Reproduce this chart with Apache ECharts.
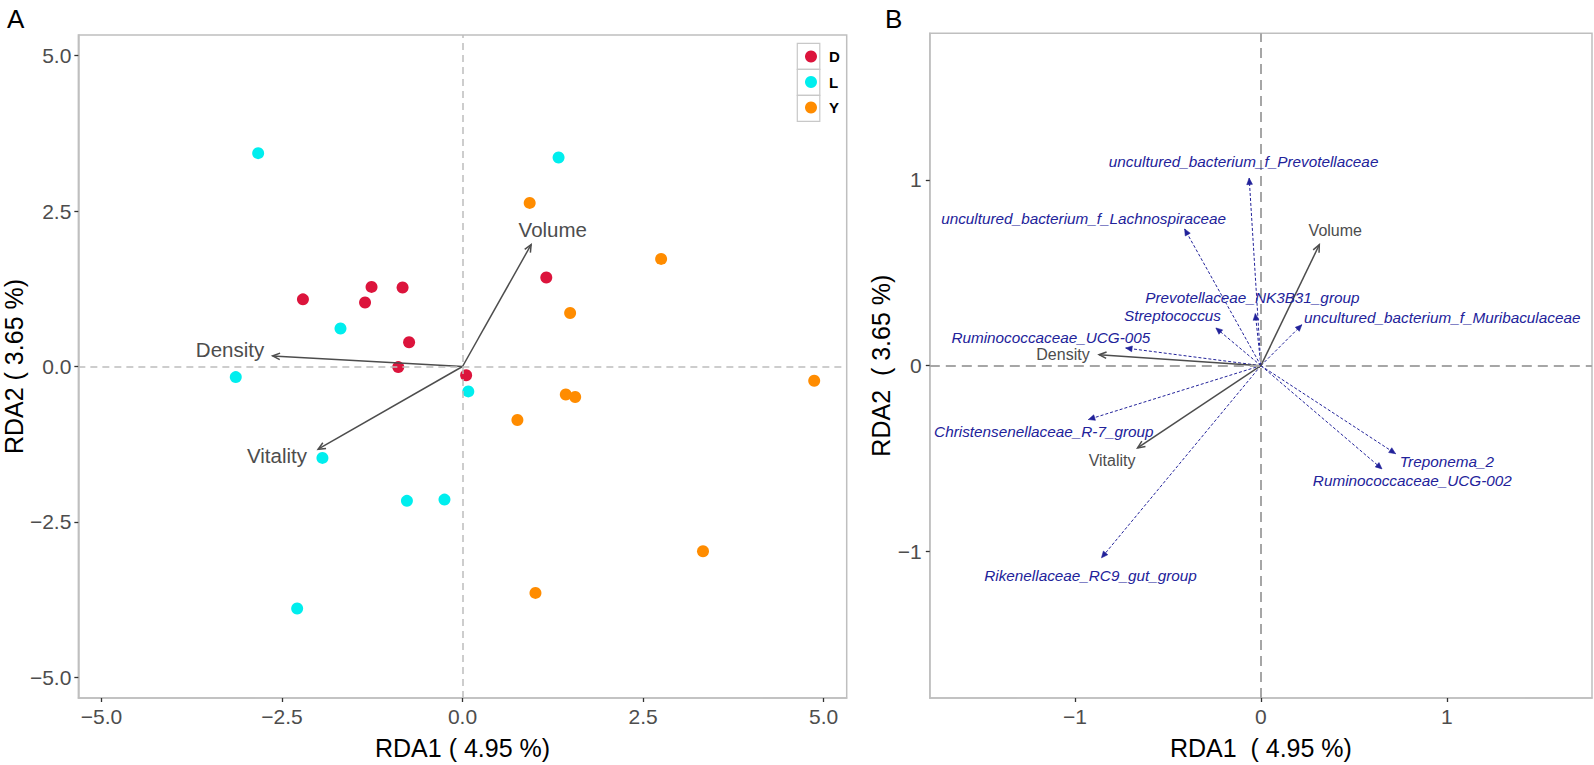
<!DOCTYPE html>
<html><head><meta charset="utf-8">
<script src="https://cdn.jsdelivr.net/npm/echarts@6/dist/echarts.min.js"></script>
<style>html,body{margin:0;padding:0;background:#fff}#c{width:1594px;height:765px}</style>
</head><body><div id="c"></div>
<script>
// ---------- data ----------
const groupNames = ['D', 'L', 'Y'];
const groupColors = ['#dc143c', '#00eeee', '#ff8c00'];
const pointsD = [[-2.21,1.08],[-1.26,1.28],[-0.83,1.27],[-1.35,1.03],[-0.74,0.39],[-0.89,-0.01],[0.05,-0.14],[1.16,1.43]];
const pointsL = [[-2.83,3.43],[1.33,3.36],[-1.69,0.61],[-3.14,-0.17],[0.08,-0.40],[-1.94,-1.47],[-0.77,-2.16],[-0.25,-2.14],[-2.29,-3.89]];
const pointsY = [[0.93,2.63],[2.75,1.73],[1.49,0.86],[4.87,-0.23],[1.43,-0.45],[1.56,-0.49],[0.76,-0.86],[3.33,-2.97],[1.01,-3.64]];

const envNames = ['Volume', 'Density', 'Vitality'];
const envArrowsA = [[0.95,1.96],[-2.63,0.17],[-2.0,-1.33]];
const envLabelsA = [[1.25,2.2],[-3.22,0.28],[-2.57,-1.43]];
const envArrowsB = [[0.314,0.651],[-0.87,0.059],[-0.663,-0.443]];
const envLabelsB = [[0.40,0.727],[-1.064,0.06],[-0.80,-0.51]];

const speciesNames = [
  'uncultured_bacterium_f_Prevotellaceae',
  'uncultured_bacterium_f_Lachnospiraceae',
  'Prevotellaceae_NK3B31_group',
  'Streptococcus',
  'uncultured_bacterium_f_Muribaculaceae',
  'Ruminococcaceae_UCG-005',
  'Christensenellaceae_R-7_group',
  'Rikenellaceae_RC9_gut_group',
  'Treponema_2',
  'Ruminococcaceae_UCG-002'
];
const speciesArrows = [[-0.063,1.01],[-0.41,0.736],[-0.03,0.28],[-0.242,0.203],[0.22,0.22],[-0.727,0.095],[-0.927,-0.29],[-0.857,-1.035],[0.724,-0.474],[0.651,-0.556]];
const speciesLabels = [[-0.093,1.10],[-0.953,0.79],[-0.046,0.368],[-0.475,0.27],[0.975,0.257],[-1.129,0.149],[-1.167,-0.354],[-0.916,-1.13],[1.0,-0.515],[0.814,-0.619]];

const ticksA = [-5, -2.5, 0, 2.5, 5];
const ticksB = [-1, 0, 1];
const xTitleA = 'RDA1 ( 4.95 %)';
const yTitleA = 'RDA2 ( 3.65 %)';
const xTitleB = 'RDA1\u00a0 ( 4.95 %)';
const yTitleB = 'RDA2\u00a0 ( 3.65 %)';

// ---------- helpers ----------
const FONT = 'Liberation Sans, Arial, Helvetica, sans-serif';
const fmtA = v => (v < 0 ? '\u2212' : '') + Math.abs(v).toFixed(1);
const fmtB = v => (v < 0 ? '\u2212' : '') + Math.abs(v);

function arrowSeries(gi, tips, color, dashed, filled, headLen, width) {
  return {
    type: 'custom', xAxisIndex: gi, yAxisIndex: gi, silent: true, z: 4,
    data: tips,
    renderItem: function (params, api) {
      const o = api.coord([0, 0]);
      const t = api.coord([api.value(0), api.value(1)]);
      const dx = t[0] - o[0], dy = t[1] - o[1];
      const len = Math.sqrt(dx * dx + dy * dy) || 1;
      const bx = -dx / len, by = -dy / len;
      const a = Math.PI / 7.5;
      const c = Math.cos(a), s = Math.sin(a);
      const p1 = [t[0] + headLen * (bx * c - by * s), t[1] + headLen * (bx * s + by * c)];
      const p2 = [t[0] + headLen * (bx * c + by * s), t[1] + headLen * (-bx * s + by * c)];
      const children = [{
        type: 'line',
        shape: { x1: o[0], y1: o[1], x2: t[0], y2: t[1] },
        style: { stroke: color, lineWidth: width, lineDash: dashed ? [3, 2] : null }
      }];
      if (filled) {
        children.push({ type: 'polygon', shape: { points: [t, p1, p2] }, style: { fill: color, stroke: color, lineWidth: 0.6 } });
      } else {
        children.push({ type: 'polyline', shape: { points: [p1, t, p2] }, style: { stroke: color, fill: null, lineWidth: width } });
      }
      return { type: 'group', children: children };
    }
  };
}

function labelSeries(gi, pos, names, color, size, italic) {
  return {
    type: 'custom', xAxisIndex: gi, yAxisIndex: gi, silent: true, z: 5,
    data: pos,
    renderItem: function (params, api) {
      const p = api.coord([api.value(0), api.value(1)]);
      return {
        type: 'text', x: p[0], y: p[1],
        style: {
          text: names[params.dataIndex], align: 'center', verticalAlign: 'middle',
          fill: color, fontSize: size, fontFamily: FONT, fontStyle: italic ? 'italic' : 'normal'
        }
      };
    }
  };
}

function zeroLines(gi, color, width, dash) {
  return {
    type: 'line', xAxisIndex: gi, yAxisIndex: gi, data: [], silent: true, z: 1,
    markLine: {
      silent: true, symbol: ['none', 'none'], animation: false,
      label: { show: false },
      lineStyle: { color: color, width: width, type: dash },
      data: [{ xAxis: 0 }, { yAxis: 0 }]
    }
  };
}

function axisCommon(extra) {
  return Object.assign({
    type: 'value',
    splitLine: { show: false },
    axisLine: { show: true, onZero: false, lineStyle: { color: '#bfbfbf', width: 1.5 } },
    nameLocation: 'middle',
    nameTextStyle: { fontSize: 25, color: '#000', fontFamily: FONT }
  }, extra);
}

const chart = echarts.init(document.getElementById('c'), null, { renderer: 'svg' });

const option = {
  backgroundColor: '#fff',
  animation: false,
  title: [
    { text: 'A', left: 2, top: 1, textStyle: { fontSize: 26, fontWeight: 'normal', color: '#000', fontFamily: FONT } },
    { text: 'B', left: 880, top: 1, textStyle: { fontSize: 26, fontWeight: 'normal', color: '#000', fontFamily: FONT } }
  ],
  grid: [
    { left: 77.3, top: 35, width: 769.4, height: 666, show: true, borderColor: '#bfbfbf', borderWidth: 1.5, backgroundColor: '#fff' },
    { left: 929.8, top: 33.3, width: 662.2, height: 665.7, show: true, borderColor: '#bfbfbf', borderWidth: 1.5, backgroundColor: '#fff' }
  ],
  xAxis: [
    axisCommon({
      gridIndex: 0, min: -5.32, max: 5.32, name: xTitleA, nameGap: 37,
      axisTick: { show: true, length: 4, customValues: ticksA, lineStyle: { color: '#333', width: 1.3 } },
      axisLabel: { customValues: ticksA, formatter: fmtA, fontSize: 21, color: '#4d4d4d', margin: 8, fontFamily: FONT }
    }),
    axisCommon({
      gridIndex: 1, min: -1.78, max: 1.78, name: xTitleB, nameGap: 37,
      axisTick: { show: true, length: 4, customValues: ticksB, lineStyle: { color: '#333', width: 1.3 } },
      axisLabel: { customValues: ticksB, formatter: fmtB, fontSize: 21, color: '#4d4d4d', margin: 8, fontFamily: FONT }
    })
  ],
  yAxis: [
    axisCommon({
      gridIndex: 0, min: -5.33, max: 5.33, name: yTitleA, nameGap: 51,
      axisTick: { show: true, length: 4, customValues: ticksA, lineStyle: { color: '#333', width: 1.3 } },
      axisLabel: { customValues: ticksA, formatter: fmtA, fontSize: 21, color: '#4d4d4d', margin: 7, fontFamily: FONT }
    }),
    axisCommon({
      gridIndex: 1, min: -1.79, max: 1.79, name: yTitleB, nameGap: 29,
      axisTick: { show: true, length: 4, customValues: ticksB, lineStyle: { color: '#333', width: 1.3 } },
      axisLabel: { customValues: ticksB, formatter: fmtB, fontSize: 21, color: '#4d4d4d', margin: 8, fontFamily: FONT }
    })
  ],
  legend: {
    orient: 'vertical', left: 805, top: 49, padding: 0, itemWidth: 12, itemHeight: 12, itemGap: 10.5,
    icon: 'circle', selectedMode: false, data: groupNames,
    textStyle: { fontSize: 15, fontWeight: 'bold', color: '#000', fontFamily: FONT, padding: [0, 0, 0, 7] }
  },
  graphic: groupNames.map((g, i) => ({
    type: 'rect', silent: true, z: 100,
    shape: { x: 797.3, y: 43.3 + 26 * i, width: 22.5, height: 26 },
    style: { fill: 'none', stroke: '#c8c8c8', lineWidth: 1.2 }
  })),
  series: [
    zeroLines(0, '#bdbdbd', 1.5, [7, 5]),
    zeroLines(1, '#a6a6a6', 2, [10, 6]),
    { name: 'D', type: 'scatter', xAxisIndex: 0, yAxisIndex: 0, data: pointsD, symbolSize: 12, itemStyle: { color: groupColors[0], opacity: 1 }, z: 3 },
    { name: 'L', type: 'scatter', xAxisIndex: 0, yAxisIndex: 0, data: pointsL, symbolSize: 12, itemStyle: { color: groupColors[1], opacity: 1 }, z: 3 },
    { name: 'Y', type: 'scatter', xAxisIndex: 0, yAxisIndex: 0, data: pointsY, symbolSize: 12, itemStyle: { color: groupColors[2], opacity: 1 }, z: 3 },
    arrowSeries(0, envArrowsA, '#4d4d4d', false, false, 8, 1.5),
    labelSeries(0, envLabelsA, envNames, '#4d4d4d', 20.5, false),
    arrowSeries(1, speciesArrows, '#22229a', true, true, 7, 1),
    arrowSeries(1, envArrowsB, '#4d4d4d', false, false, 8, 1.5),
    labelSeries(1, speciesLabels, speciesNames, '#22229a', 15.3, true),
    labelSeries(1, envLabelsB, envNames, '#4d4d4d', 16, false)
  ]
};
chart.setOption(option);
</script>
</body></html>
